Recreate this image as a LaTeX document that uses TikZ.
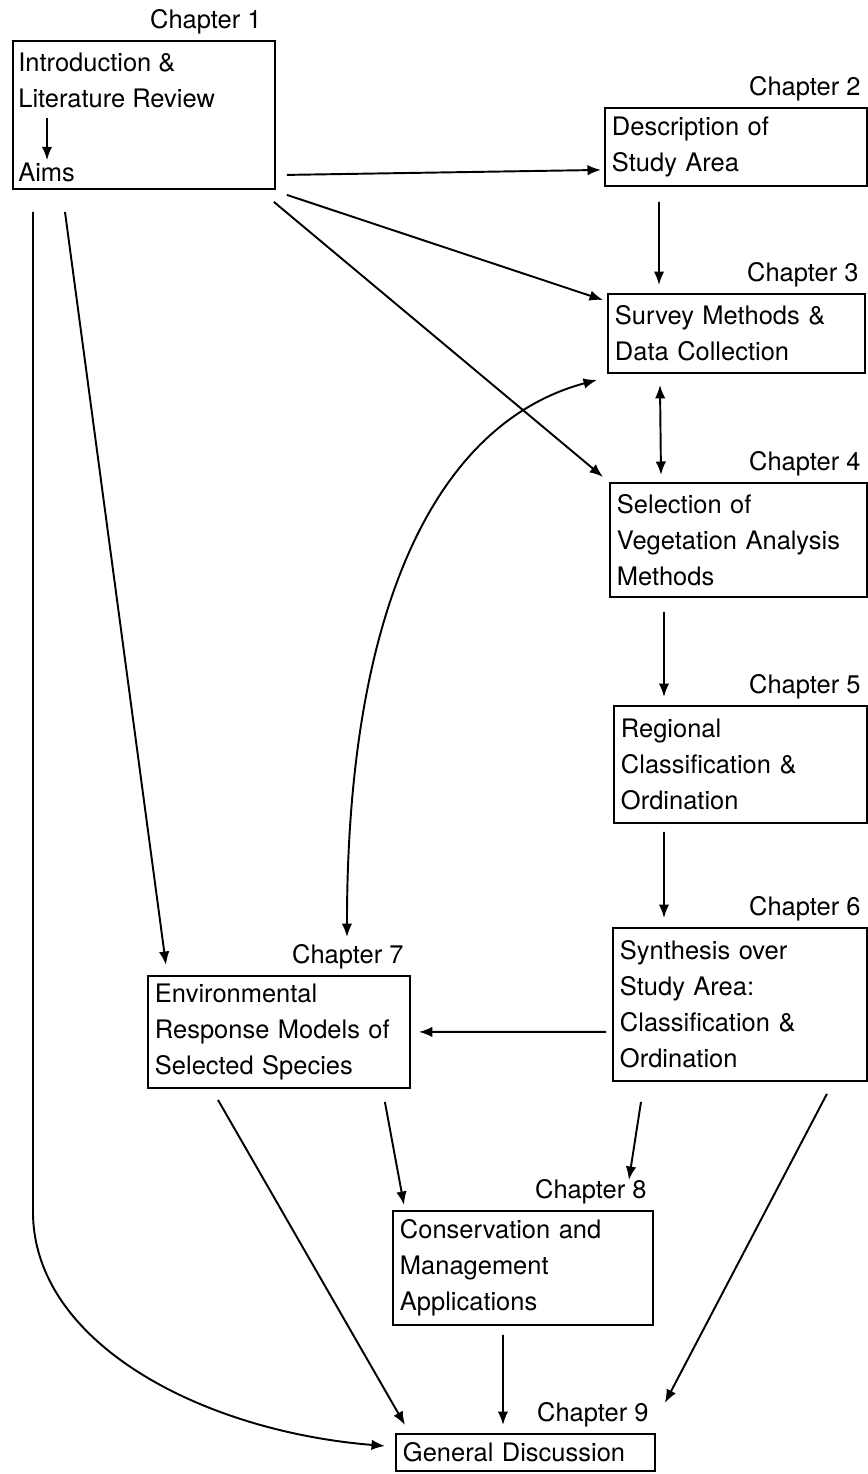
\documentclass[tikz,border=0pt]{standalone}
\usepackage{fontspec}
\setmainfont{TeX Gyre Heros}
\usepackage{tikz}
\usetikzlibrary{arrows.meta}

\begin{document}
\begin{tikzpicture}[x=0.02cm, y=-0.02cm,
  chbox/.style={draw, line width=1.1pt, anchor=north west, align=left,
    inner xsep=0.14cm, inner ysep=2pt, font=\fontsize{14.5}{20.5}\selectfont},
  chap/.style={anchor=south east, inner xsep=4pt, inner ysep=3.3pt,
    font=\fontsize{14.5}{17}\selectfont},
  txt/.style={align=left, inner sep=0pt, font=\fontsize{14.5}{20}\selectfont},
  arr/.style={line width=1.1pt, -{Latex[length=0.27cm,width=0.21cm]}},
  dbl/.style={line width=1.1pt, {Latex[length=0.27cm,width=0.21cm]}-{Latex[length=0.27cm,width=0.21cm]}}]
\useasboundingbox (0,0) rectangle (867,1474);

\node[chbox, minimum width=5.24cm, minimum height=2.96cm] (ch1) at (12,40) {};
\node[txt, anchor=north west] (intro) at ([xshift=0.12cm,yshift=-0.26cm]ch1.north west) {Introduction \&\\Literature Review};
\node[txt, anchor=south west] (aims) at ([xshift=0.12cm,yshift=0.16cm]ch1.south west) {Aims};
\node[chbox, text width=4.96cm, minimum height=1.56cm] (ch2) at (604,107) {Description of\\Study Area};
\node[chbox, text width=4.86cm, minimum height=1.58cm] (ch3) at (607,293) {Survey Methods \&\\Data Collection};
\node[chbox, text width=4.86cm, minimum height=2.28cm] (ch4) at (609,482) {Selection of\\Vegetation Analysis\\Methods};
\node[chbox, text width=4.78cm, minimum height=2.34cm] (ch5) at (613,705) {Regional\\Classification \&\\Ordination};
\node[chbox, text width=4.80cm, minimum height=3.06cm] (ch6) at (612,927) {Synthesis over\\Study Area:\\Classification \&\\Ordination};
\node[chbox, text width=4.96cm, minimum height=2.24cm] (ch7) at (147,975) {Environmental\\Response Models of\\Selected Species};
\node[chbox, text width=4.92cm, minimum height=2.28cm] (ch8) at (392,1210) {Conservation and\\Management\\Applications};
\node[chbox, text width=4.90cm, minimum height=0.74cm] (ch9) at (395,1433) {General Discussion};

\node[chap] (lab1) at ([xshift=-0.14cm]ch1.north east) {Chapter 1};
\node[chap] (lab2) at (ch2.north east) {Chapter 2};
\node[chap] (lab3) at (ch3.north east) {Chapter 3};
\node[chap] (lab4) at (ch4.north east) {Chapter 4};
\node[chap] (lab5) at (ch5.north east) {Chapter 5};
\node[chap] (lab6) at (ch6.north east) {Chapter 6};
\node[chap] (lab7) at (ch7.north east) {Chapter 7};
\node[chap] (lab8) at (ch8.north east) {Chapter 8};
\node[chap] (lab9) at (ch9.north east) {Chapter 9};

\draw[arr] ([xshift=0.58cm,yshift=-0.2cm]intro.south west) -- ([xshift=0.58cm,yshift=0.04cm]aims.north west);
\draw[arr] ([xshift=0.22cm,yshift=0.3cm]ch1.south east) -- ([xshift=-0.06cm,yshift=0.34cm]ch2.south west);
\draw[arr] ([xshift=0.22cm,yshift=-0.1cm]ch1.south east) -- ([xshift=-0.08cm,yshift=-0.14cm]ch3.north west);
\draw[arr] ([xshift=-0.04cm,yshift=-0.24cm]ch1.south east) -- ([xshift=-0.12cm,yshift=0.1cm]ch4.north west);
\draw[arr] ([xshift=1.1cm,yshift=-0.3cm]ch2.south west) -- ([xshift=1.04cm,yshift=0.16cm]ch3.north west);
\draw[dbl] ([xshift=1.06cm,yshift=-0.22cm]ch3.south west) -- ([xshift=1.04cm,yshift=0.14cm]ch4.north west);
\draw[arr] ([xshift=1.1cm,yshift=-0.28cm]ch4.south west) -- ([xshift=1.02cm,yshift=0.16cm]ch5.north west);
\draw[arr] ([xshift=1.02cm,yshift=-0.16cm]ch5.south west) -- ([xshift=1.04cm,yshift=0.18cm]ch6.north west);
\draw[arr] ([xshift=-0.12cm,yshift=1.0cm]ch6.south west) -- ([xshift=0.16cm,yshift=1.14cm]ch7.south east);
\draw[dbl] ([xshift=4cm,yshift=0.76cm]ch7.north west) .. controls +(0,-337) and +(-157,42) .. ([xshift=-0.2cm,yshift=-0.12cm]ch3.south west);
\draw[arr] ([xshift=1.06cm,yshift=-0.44cm]ch1.south west) -- ([xshift=0.38cm,yshift=0.2cm]ch7.north west);
\draw[arr] ([xshift=0.42cm,yshift=-0.44cm]ch1.south west) -- ++(0,1000) .. controls +(0,130) and +(-185,-15) .. ([xshift=-0.2cm,yshift=0.13cm]ch9.west);
\draw[arr] ([xshift=1.42cm,yshift=-0.22cm]ch7.south west) -- ([xshift=0.2cm,yshift=0.16cm]ch9.north west);
\draw[arr] ([xshift=-0.52cm,yshift=-0.26cm]ch7.south east) -- ([xshift=0.24cm,yshift=0.1cm]ch8.north west);
\draw[arr] ([xshift=0.58cm,yshift=-0.4cm]ch6.south west) -- ([xshift=-0.5cm,yshift=0.6cm]ch8.north east);
\draw[arr] ([xshift=-0.82cm,yshift=-0.24cm]ch6.south east) -- ([xshift=0.18cm,yshift=0.6cm]ch9.north east);
\draw[arr] ([xshift=2.22cm,yshift=-0.18cm]ch8.south west) -- ([xshift=2.16cm,yshift=0.16cm]ch9.north west);
\end{tikzpicture}
\end{document}
